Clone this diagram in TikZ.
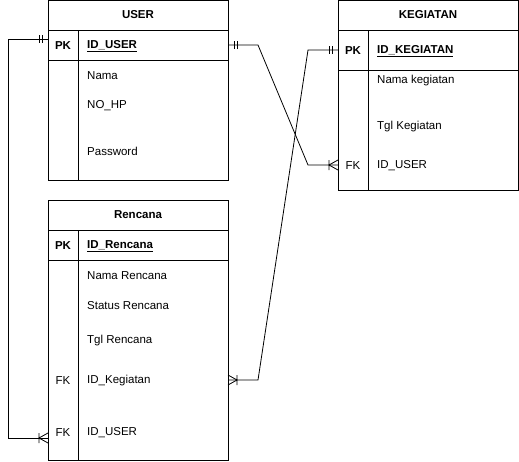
\documentclass[tikz,border=0pt]{standalone}
\usepackage{fontspec}
\setmainfont{Liberation Sans}
\usetikzlibrary{positioning,calc}
\newcommand{\erfont}{\fontsize{11.5}{13}\selectfont}

\begin{document}
\begin{tikzpicture}[
  x=1pt, y=-1pt, font=\erfont,
  cell/.style  ={draw, line width=0.8pt, inner sep=0pt, outer sep=0pt,
                 minimum width=180pt, anchor=north west},
  hdr/.style   ={cell, minimum height=30pt, font=\erfont\bfseries},
  attr/.style  ={anchor=west, inner sep=0pt, yshift=-1pt},
  key/.style   ={inner sep=0pt, yshift=-1pt},
  pk/.style    ={font=\erfont\bfseries},
  rel/.style   ={line width=0.8pt},
  mandone/.pic ={\draw[rel] (-6,-4) -- (-6,4) (-9,-4) -- (-9,4);},
  onemany/.pic ={\draw[rel] (0,-5) -- (-9,0) -- (0,5) (-9,-5) -- (-9,5);}]
\useasboundingbox (0,0) rectangle (519,461);

% USER
\node[hdr] (user) at (48,0) {USER};
\node[cell, minimum height=30pt] (userpk) at (user.south west) {};
\node[cell, minimum height=120pt] (userbd) at (userpk.south west) {};
\draw[rel] ($(userpk.north west)+(30,0)$) -- ($(userbd.south west)+(30,0)$);
\node[key, pk] (ukey) at (63,45) {PK};
\node[attr, pk] (uid) at (87,45) {\underline{ID\_USER}};
\foreach \n/\t/\y in {unama/Nama/75, uhp/NO\_HP/105, upass/Password/150}
  \node[attr] (\n) at (87,\y) {\t};

% KEGIATAN
\node[hdr] (keg) at (338,0) {KEGIATAN};
\node[cell, minimum height=40pt] (kegpk) at (keg.south west) {};
\node[cell, minimum height=120pt] (kegbd) at (kegpk.south west) {};
\draw[rel] ($(kegpk.north west)+(30,0)$) -- ($(kegbd.south west)+(30,0)$);
\node[key, pk] (kkey) at (353,50) {PK};
\node[attr, pk] (kid) at (377,50) {\underline{ID\_KEGIATAN}};
\foreach \n/\t/\y in {knama/Nama kegiatan/80, ktgl/Tgl Kegiatan/126,
                      kuser/ID\_USER/165}
  \node[attr] (\n) at (377,\y) {\t};
\node[key] (kfk) at (353,165) {FK};

% Rencana
\node[hdr] (ren) at (48,200) {Rencana};
\node[cell, minimum height=30pt] (renpk) at (ren.south west) {};
\node[cell, minimum height=200pt] (renbd) at (renpk.south west) {};
\draw[rel] ($(renpk.north west)+(30,0)$) -- ($(renbd.south west)+(30,0)$);
\node[key, pk] (rkey) at (63,245) {PK};
\node[attr, pk] (rid) at (87,245) {\underline{ID\_Rencana}};
\foreach \n/\t/\y in {rnama/Nama Rencana/275, rstat/Status Rencana/305,
                      rtgl/Tgl Rencana/340, rkeg/ID\_Kegiatan/380,
                      ruser/ID\_USER/432}
  \node[attr] (\n) at (87,\y) {\t};
\node[key] (rfk1) at (63,380) {FK};
\node[key] (rfk2) at (63,432) {FK};

% ports
\coordinate (pU1) at (48,39);
\coordinate (pU2) at (228,45);
\coordinate (pK1) at (338,50);
\coordinate (pK2) at (338,165);
\coordinate (pR1) at (228,380);
\coordinate (pR2) at (48,438);

% relations
\draw[rel] (pU1) -- (8,39) -- (8,438) -- (pR2);
\draw[rel] (pU2) -- (258,45) -- (308,165) -- (pK2);
\draw[rel] (pR1) -- (258,380) -- (308,50) -- (pK1);
\pic at (pU1) {mandone};
\pic at (pR2) {onemany};
\pic[rotate=180] at (pU2) {mandone};
\pic at (pK2) {onemany};
\pic[rotate=180] at (pR1) {onemany};
\pic at (pK1) {mandone};
\end{tikzpicture}
\end{document}
